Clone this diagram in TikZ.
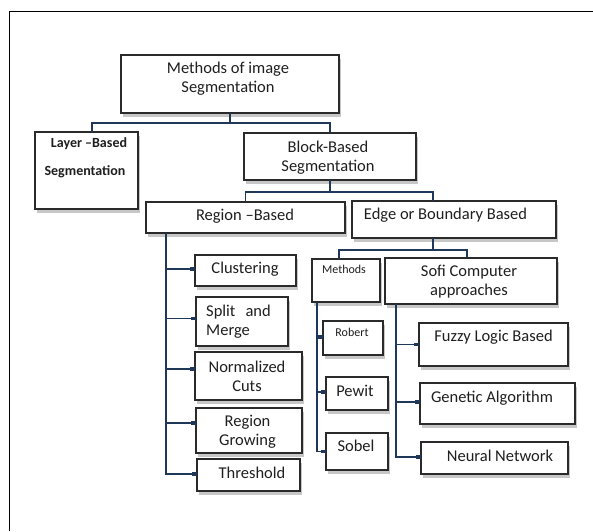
\documentclass[tikz,border=0pt]{standalone}
\usepackage{fontspec}
\setmainfont{Carlito}
\usetikzlibrary{arrows.meta,shadows}
\definecolor{navy}{HTML}{1F385A}
\definecolor{boxline}{HTML}{2A2A2A}
\tikzset{
  box/.style={draw=boxline, line width=1.2pt, fill=white, inner sep=0pt, outer sep=0pt,
    drop shadow={shadow xshift=2pt, shadow yshift=-4pt, fill=black, opacity=0.22}},
  conn/.style={draw=navy, line width=1.4pt},
  tipped/.style={conn, -{Rectangle[length=5pt,width=3.2pt]}},
  txt/.style={inner sep=0pt, font=\fontsize{16.5}{19}\selectfont, align=center, text=black!88},
  small/.style={inner sep=0pt, font=\fontsize{12}{14}\selectfont, text=black!88},
  boldt/.style={inner sep=0pt, font=\fontsize{14}{16}\selectfont\bfseries, text=black!88},
  frame/.style={draw=black, line width=1.6pt}
}
\begin{document}
\begin{tikzpicture}[x=1pt,y=-1pt]
\useasboundingbox (0,0) rectangle (593,531);
\coordinate (fr1) at (593,11.5);
\coordinate (fr2) at (9.5,11.5);
\coordinate (fr3) at (9.5,531);
\draw[frame] (fr1) -- (fr2) -- (fr3);

% boxes
\node[box, minimum width=218pt, minimum height=58pt] (top) at (230,84) {};
\node[box, minimum width=103pt, minimum height=77pt] (layer) at (86.5,170.5) {};
\node[box, minimum width=172pt, minimum height=47pt] (block) at (330,156.5) {};
\node[box, minimum width=199pt, minimum height=31pt] (region) at (245.5,217.5) {};
\node[box, minimum width=204pt, minimum height=37pt] (edge) at (454,219.5) {};
\node[box, minimum width=101pt, minimum height=31pt] (clus) at (245.5,270.5) {};
\node[box, minimum width=92pt, minimum height=49pt] (split) at (242,321.5) {};
\node[box, minimum width=107pt, minimum height=48pt] (norm) at (248.5,376) {};
\node[box, minimum width=106pt, minimum height=45pt] (grow) at (249,430.5) {};
\node[box, minimum width=103pt, minimum height=32pt] (thr) at (248.5,475) {};
\node[box, minimum width=68pt, minimum height=43pt] (meth) at (346,280.5) {};
\node[box, minimum width=172pt, minimum height=46pt] (sofi) at (471,281) {};
\node[box, minimum width=60pt, minimum height=34pt] (rob) at (353,338) {};
\node[box, minimum width=62pt, minimum height=33pt] (pew) at (357,393.5) {};
\node[box, minimum width=62pt, minimum height=37pt] (sob) at (357,451.5) {};
\node[box, minimum width=149pt, minimum height=43pt] (fuz) at (493.5,344.5) {};
\node[box, minimum width=155pt, minimum height=41pt] (gen) at (497.5,403.5) {};
\node[box, minimum width=147pt, minimum height=32pt] (neu) at (494.5,458) {};

% texts
\node[txt] (ttop) at (228,79) {Methods of image\\Segmentation};
\node[boldt, anchor=base] (tlay1) at (89,147.5) {Layer –Based};
\node[boldt, anchor=base] (tlay2) at (85,175.5) {Segmentation};
\node[txt] (tblock) at (328,158) {Block-Based\\Segmentation};
\node[txt, anchor=base] (tregion) at (245,220) {Region –Based};
\node[txt, anchor=base] (tedge) at (445.5,219) {Edge or Boundary Based};
\node[txt, anchor=base] (tclus) at (245,273) {Clustering};
\node[txt, align=left, anchor=west] (tsplit) at (206,321.5) {Split\hspace{10pt}and\\Merge};
\node[txt] (tnorm) at (247,376.5) {Normalized\\Cuts};
\node[txt] (tgrow) at (247.5,431.5) {Region\\Growing};
\node[txt, anchor=base] (tthr) at (252,478) {Threshold};
\node[small, anchor=base] (tmeth) at (344,273) {Methods};
\node[txt] (tsofi) at (469,282) {Sofi Computer\\approaches};
\node[small, anchor=base] (trob) at (352,336) {Robert};
\node[txt, anchor=base] (tpew) at (355,396) {Pewit};
\node[txt, anchor=base] (tsob) at (356,451) {Sobel};
\node[txt, anchor=base] (tfuz) at (493.5,341) {Fuzzy Logic Based};
\node[txt, anchor=base] (tgen) at (492,402) {Genetic Algorithm};
\node[txt, anchor=base] (tneu) at (500,461) {Neural Network};

% connectors: level 1
\draw[conn] (top.south) -- ++(0,10) coordinate (j1);
\draw[conn] (j1) -| ([xshift=5.5pt]layer.north);
\draw[conn] (j1) -| (block.north);
% level 2
\draw[conn] (block.south) -- ++(0,12) coordinate (j2);
\draw[conn] (j2) -| (region.north);
\draw[conn] (j2) -| ([xshift=-21pt]edge.north);
% edge children
\draw[conn] ([xshift=-21pt]edge.south) -- ++(0,12) coordinate (j3);
\draw[conn] (j3) -| ([xshift=-7pt]meth.north);
\draw[conn] (j3) -| ([xshift=-4pt]sofi.north);
% region branches
\coordinate (rv) at ([xshift=20pt]region.south west);
\draw[tipped] (rv) |- ([yshift=1.5pt]clus.west);
\draw[tipped] (rv) |- ([yshift=3pt]split.west);
\draw[tipped] (rv) |- ([yshift=7pt]norm.west);
\draw[tipped] (rv) |- ([yshift=7.5pt]grow.west);
\draw[tipped] (rv) |- ([yshift=1pt]thr.west);
% methods branches
\coordinate (mv) at ([xshift=5pt]meth.south west);
\draw[tipped] (mv) |- ([yshift=1pt]rob.west);
\draw[tipped] (mv) |- ([yshift=1.5pt]pew.west);
\draw[tipped] (mv) |- (sob.west);
% soft computing branches
\coordinate (sv) at ([xshift=11pt]sofi.south west);
\draw[tipped] (sv) |- (fuz.west);
\draw[tipped] (sv) |- ([yshift=1.5pt]gen.west);
\draw[tipped] (sv) |- ([yshift=1pt]neu.west);
\end{tikzpicture}
\end{document}
